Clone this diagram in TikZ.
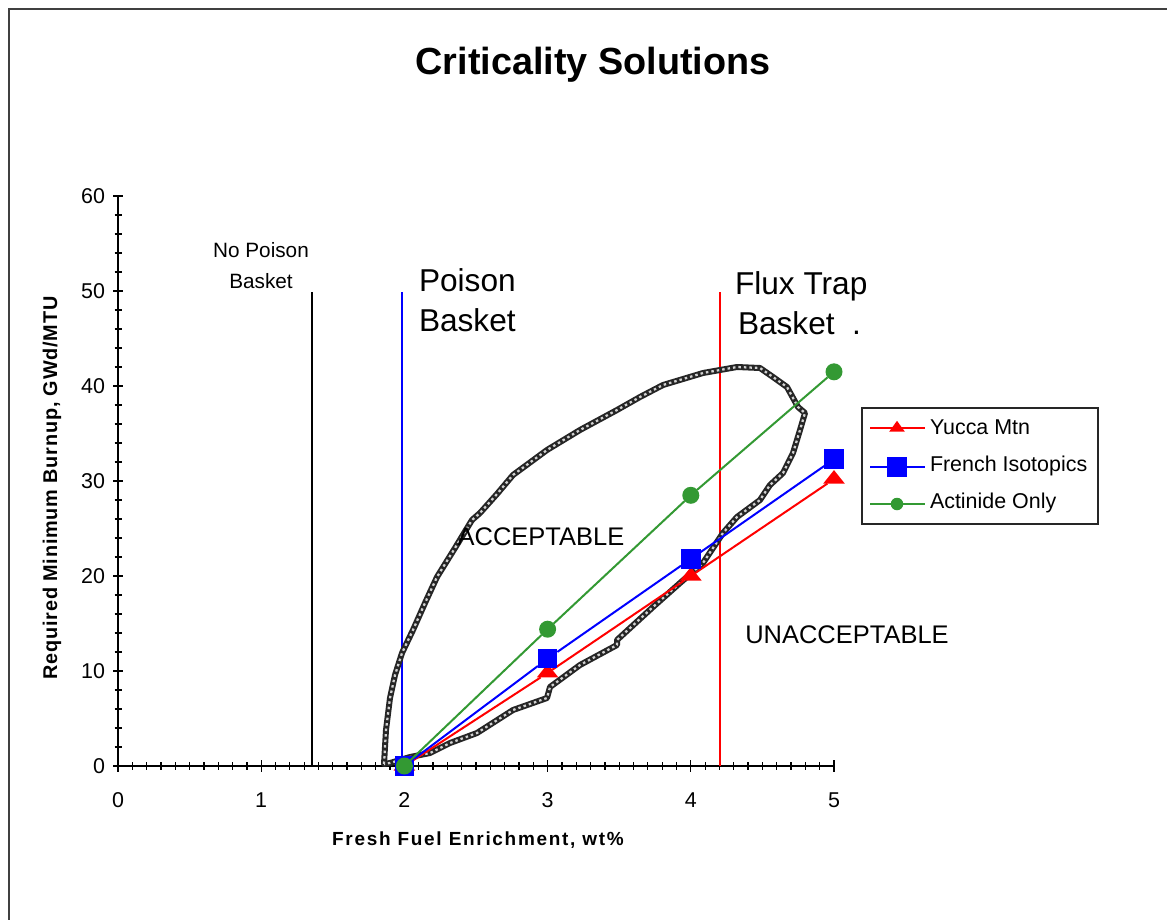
\documentclass[tikz,border=0pt]{standalone}
\usepackage{fontspec}
\setmainfont{Liberation Sans}
\usetikzlibrary{shapes.geometric}
\definecolor{sgreen}{HTML}{339933}
\definecolor{frame}{HTML}{404040}
\begin{document}
\begin{tikzpicture}[x=0.02cm,y=-0.02cm,
  every node/.style={inner sep=0pt,outer sep=0pt},
  tick/.style={line width=0.025cm,black},
  yuc/.style={regular polygon,regular polygon sides=3,fill=red,minimum size=0.5cm,yscale=0.72},
  fre/.style={rectangle,fill=blue,minimum size=0.39cm},
  act/.style={circle,fill=sgreen,minimum size=0.34cm},
  yucl/.style={regular polygon,regular polygon sides=3,fill=red,minimum size=0.36cm,yscale=0.8},
  frel/.style={rectangle,fill=blue,minimum size=0.4cm},
  actl/.style={circle,fill=sgreen,minimum size=0.25cm},
  ser/.style={line width=0.04cm},
  vline/.style={line width=0.04cm},
  ticklbl/.style={font=\fontsize{12.2}{14}\selectfont},
  big/.style={font=\fontsize{18}{22.7}\selectfont,align=left},
  region/.style={font=\fontsize{14.5}{17}\selectfont},
  legtxt/.style={font=\fontsize{12.2}{14}\selectfont,anchor=west}]
\useasboundingbox (0,0) rectangle (1167,920);
\fill[white] (0,0) rectangle (1167,920);
% frame
\draw[line width=0.05cm,frame] (1180,9) -- (9,9) -- (9,935);
% title
\node[font=\bfseries\fontsize{21.5}{24}\selectfont] (title) at (593,65) {Criticality Solutions};
% axes
\coordinate (o) at (118,766);
\coordinate (ytop) at (118,196);
\coordinate (xend) at (834,766);
\draw[tick] (ytop) -- (o) -- (xend);
\foreach \v in {0,10,...,60}{
  \draw[tick] (113,{766-9.5*\v}) -- (123,{766-9.5*\v});
  \node[ticklbl,anchor=east] (yl\v) at (105,{766-9.5*\v}) {\v};
}
\foreach \v in {2,4,6,8,12,14,16,18,22,24,26,28,32,34,36,38,42,44,46,48,52,54,56,58}{
  \draw[tick] (114.5,{766-9.5*\v}) -- (121.5,{766-9.5*\v});
}
\foreach \i in {0,...,50}{
  \draw[tick] ({118+14.32*\i},762) -- ({118+14.32*\i},770);
}
\foreach \v in {0,...,5}{
  \draw[tick] ({118+143.2*\v},760) -- ({118+143.2*\v},772);
  \node[ticklbl] (xl\v) at ({118+143.2*\v},800) {\v};
}
% axis labels
\node[font=\bfseries\fontsize{10.8}{12}\selectfont] (xlab) at (478,840) {\addfontfeatures{LetterSpace=9}Fresh Fuel Enrichment, wt\%};
\node[font=\bfseries\fontsize{11.3}{12}\selectfont,rotate=90] (ylab) at (52,488) {\addfontfeatures{LetterSpace=4}Required Minimum Burnup, GWd/MTU};
% basket lines
\coordinate (np0) at (312,766); \coordinate (np1) at (312,292);
\coordinate (pb0) at (402,766); \coordinate (pb1) at (402,292);
\coordinate (ft0) at (720,766); \coordinate (ft1) at (720,292);
\draw[vline,black] (np0) -- (np1);
\draw[vline,blue] (pb0) -- (pb1);
\draw[vline,red] (ft0) -- (ft1);
\node[align=center,font=\fontsize{11.8}{17.6}\selectfont] (nopoison) at (261,266) {No Poison\\Basket};
\node[big,anchor=west] (poison) at (419,300) {Poison\\Basket};
\node[big,anchor=west] (flux) at (735,303) {Flux Trap\\\hspace{0.06cm}Basket~~.};
% acceptable region outline
\def\blob{(384,764) -- (386,730) -- (390,698) -- (395,675) -- (402,653) -- (413,630) -- (425,603) -- (437,577) -- (455,548) -- (472,520) -- (480,513) -- (497,494) -- (513,475) -- (547,450) -- (580,430) -- (617,410) -- (640,397) -- (663,385) -- (703,373) -- (737,367) -- (760,368) -- (773,377) -- (787,387) -- (798,407) -- (805,413) -- (800,430) -- (793,453) -- (783,473) -- (770,485) -- (760,500) -- (737,517) -- (723,533) -- (703,563) -- (680,583) -- (653,607) -- (617,640) -- (617,645) -- (580,665) -- (550,687) -- (547,698) -- (513,710) -- (477,733) -- (450,743) -- (430,753) -- (410,757) -- (390,763) -- cycle}
\draw[line width=0.12cm,black!85,line join=round] \blob;
\draw[line width=0.045cm,white!65!gray,dash pattern=on 0.05cm off 0.06cm,line join=round] \blob;
\node[region] (acc) at (541,537) {ACCEPTABLE};
\node[region] (unacc) at (847,635) {UNACCEPTABLE};
% series nodes
\node[yuc] (y2) at (404.4,766) {};
\node[yuc] (y3) at (547.6,672.9) {};
\node[yuc] (y4) at (690.8,576) {};
\node[yuc] (y5) at (834,479.1) {};
\draw[ser,red] (y2) -- (y3) -- (y4) -- (y5);
\node[fre] (f2) at (404.4,766) {};
\node[fre] (f3) at (547.6,658.7) {};
\node[fre] (f4) at (690.8,558.9) {};
\node[fre] (f5) at (834,459.2) {};
\draw[ser,blue] (f2) -- (f3) -- (f4) -- (f5);
\node[act] (a2) at (404.4,766) {};
\node[act] (a3) at (547.6,629.2) {};
\node[act] (a4) at (690.8,495.3) {};
\node[act] (a5) at (834,371.8) {};
\draw[ser,sgreen] (a2) -- (a3) -- (a4) -- (a5);
% legend
\node[draw=black!85,line width=0.03cm,minimum width=4.72cm,minimum height=2.32cm] (legend) at (980,466) {};
\coordinate (ly0) at (870,428); \coordinate (ly1) at (925,428);
\coordinate (lf0) at (870,467); \coordinate (lf1) at (925,467);
\coordinate (la0) at (870,504); \coordinate (la1) at (925,504);
\draw[ser,red] (ly0) -- (ly1);
\draw[ser,blue] (lf0) -- (lf1);
\draw[ser,sgreen] (la0) -- (la1);
\node[yucl] (lym) at (897,428) {};
\node[frel] (lfm) at (897,467) {};
\node[actl] (lam) at (897,504) {};
\node[legtxt] (lyt) at (930,427) {Yucca Mtn};
\node[legtxt] (lft) at (930,466) {French Isotopics};
\node[legtxt] (lat) at (930,503) {Actinide Only};
\end{tikzpicture}
\end{document}
